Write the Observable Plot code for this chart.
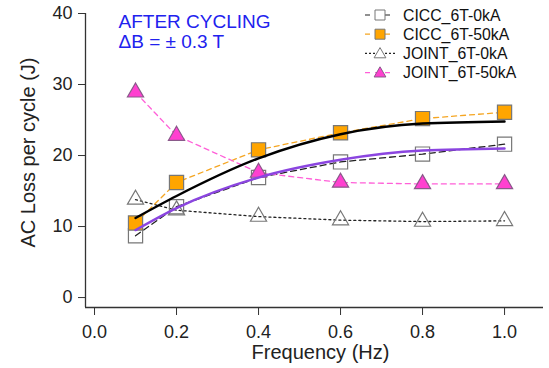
<!DOCTYPE html>
<html>
<head>
<meta charset="utf-8">
<script src="https://cdn.jsdelivr.net/npm/d3@7"></script>
<script src="https://cdn.jsdelivr.net/npm/@observablehq/plot@0.6"></script>
<style>
  body { margin: 0; background: #fff; }
  #wrap { position: relative; width: 549px; height: 368px; font-family: "Liberation Sans", Arial, sans-serif; }
  #legend { position: absolute; left: 0; top: 0; pointer-events: none; }
</style>
</head>
<body>
<div id="wrap"></div>
<script>
// ---- data ----
const freq = [0.1, 0.2, 0.4, 0.6, 0.8, 1.0];
const cicc0 = [8.7, 12.8, 16.9, 19.1, 20.2, 21.6];
const cicc50 = [10.5, 16.2, 20.8, 23.2, 25.2, 26.1];
const joint0 = [13.8, 12.3, 11.4, 10.9, 10.7, 10.8];
const joint50 = [28.9, 22.8, 17.6, 16.2, 16.0, 16.0];
const fitBlack = [11.2, 14.3, 19.6, 23.0, 24.5, 24.8];
const fitPurple = [9.5, 12.6, 16.9, 19.4, 20.7, 21.0];
const seriesNames = ["CICC_6T-0kA", "CICC_6T-50kA", "JOINT_6T-0kA", "JOINT_6T-50kA"];
const xTicks = [0, 0.2, 0.4, 0.6, 0.8, 1.0];
const yTicks = [0, 10, 20, 30, 40];
const xDomain = [-0.022, 1.095];
const yDomain = [-1.4, 40];
const annotation = ["AFTER CYCLING", "ΔB = ± 0.3 T"];

const toRows = (vals) => freq.map((f, i) => ({x: f, y: vals[i]}));
const rCicc0 = toRows(cicc0), rCicc50 = toRows(cicc50), rJoint0 = toRows(joint0), rJoint50 = toRows(joint50);
const rBlack = toRows(fitBlack), rPurple = toRows(fitPurple);

const font = "Liberation Sans, Arial, sans-serif";
const styles = {
  cicc0: {line: "#222", dash: "6,4", fill: "white", stroke: "#777", symbol: "square", r: 8},
  cicc50: {line: "#F5A623", dash: "5,4", fill: "#FFA500", stroke: "#777", symbol: "square", r: 8},
  joint0: {line: "#222", dash: "2,3", fill: "white", stroke: "#777", symbol: "triangle", r: 6},
  joint50: {line: "#FF5FD8", dash: "5,4", fill: "#FF40D0", stroke: "#8a5a8a", symbol: "triangle", r: 6}
};

const plot = Plot.plot({
  width: 549,
  height: 368,
  marginLeft: 85,
  marginRight: 6,
  marginTop: 13,
  marginBottom: 61,
  style: {fontFamily: font, background: "white"},
  x: {domain: xDomain, axis: null},
  y: {domain: yDomain, axis: null},
  marks: [
    Plot.ruleX([xDomain[0]], {y1: yDomain[0], y2: yTicks[yTicks.length - 1], stroke: "#333", strokeWidth: 1.3}),
    Plot.ruleY([yDomain[0]], {stroke: "#333", strokeWidth: 1.3}),
    Plot.axisX({ticks: xTicks, tickFormat: d3.format(".1f"), tickSize: 8, tickPadding: 10, fontSize: 18, stroke: "#333", label: null, color: "#222"}),
    Plot.axisY({ticks: yTicks, tickSize: 7, tickPadding: 6, fontSize: 18, stroke: "#333", label: null, color: "#222"}),
    Plot.text(["Frequency (Hz)"], {frameAnchor: "bottom", dy: 51, dx: 6, fontSize: 20, fill: "#222", lineAnchor: "bottom"}),
    Plot.text(["AC Loss per cycle (J)"], {frameAnchor: "left", rotate: -90, textAnchor: "middle", dx: -57, dy: -8, fontSize: 20, fill: "#222"}),
    Plot.text([annotation.join("\n")], {frameAnchor: "top-left", dx: 33, dy: 1, fontSize: 19, fill: "#2121EE", lineHeight: 1.03, textAnchor: "start", lineAnchor: "top"}),
    // series lines
    Plot.line(rJoint0, {x: "x", y: "y", stroke: styles.joint0.line, strokeWidth: 1.3, strokeDasharray: styles.joint0.dash}),
    Plot.line(rCicc0, {x: "x", y: "y", stroke: styles.cicc0.line, strokeWidth: 1.3, strokeDasharray: styles.cicc0.dash}),
    Plot.line(rCicc50, {x: "x", y: "y", stroke: styles.cicc50.line, strokeWidth: 1.3, strokeDasharray: styles.cicc50.dash}),
    Plot.line(rJoint50, {x: "x", y: "y", stroke: styles.joint50.line, strokeWidth: 1.3, strokeDasharray: styles.joint50.dash}),
    // markers
    Plot.dot(rCicc0, {x: "x", y: "y", symbol: "square", r: styles.cicc0.r, fill: styles.cicc0.fill, fillOpacity: 0, stroke: styles.cicc0.stroke, strokeWidth: 1.2}),
    Plot.dot(rJoint0, {x: "x", y: "y", symbol: "triangle", r: styles.joint0.r, fill: "white", fillOpacity: 0, stroke: styles.joint0.stroke, strokeWidth: 1.2}),
    Plot.dot(rCicc50, {x: "x", y: "y", symbol: "square", r: styles.cicc50.r, fill: styles.cicc50.fill, stroke: styles.cicc50.stroke, strokeWidth: 1.2}),
    Plot.dot(rJoint50, {x: "x", y: "y", symbol: "triangle", r: styles.joint50.r, fill: styles.joint50.fill, stroke: styles.joint50.stroke, strokeWidth: 1.2}),
    // fit lines
    Plot.line(rPurple, {x: "x", y: "y", stroke: "#8B45E0", strokeWidth: 2.4, curve: "monotone-x"}),
    Plot.line(rBlack, {x: "x", y: "y", stroke: "#000", strokeWidth: 2.4, curve: "monotone-x"})
  ]
});

const wrap = document.getElementById("wrap");
wrap.appendChild(plot);

// ---- legend overlay ----
const keys = ["cicc0", "cicc50", "joint0", "joint50"];
const legendX = 365, legendY0 = 15, legendStep = 19.2;
const svg = d3.select(wrap).append("svg")
  .attr("id", "legend").attr("width", 549).attr("height", 368);
keys.forEach((k, i) => {
  const s = styles[k];
  const y = legendY0 + i * legendStep;
  const g = svg.append("g").attr("transform", `translate(0,${y})`);
  g.append("line").attr("x1", legendX).attr("x2", legendX + 30).attr("y1", 0).attr("y2", 0)
    .attr("stroke", s.line).attr("stroke-width", 1.2).attr("stroke-dasharray", k === "joint0" ? "2,2" : "5,5");
  const size = s.symbol === "square" ? 100 : 60;
  const sym = d3.symbol().type(s.symbol === "square" ? d3.symbolSquare : d3.symbolTriangle).size(size);
  g.append("path").attr("d", sym()).attr("transform", `translate(${legendX + 15},${s.symbol === "triangle" ? 1 : 0})`)
    .attr("fill", s.fill).attr("stroke", s.stroke).attr("stroke-width", 1);
  g.append("text").attr("x", 403).attr("y", 0).attr("dy", "0.36em")
    .attr("font-family", font).attr("font-size", 15.8).attr("fill", "#111").text(seriesNames[i]);
});
</script>
</body>
</html>
